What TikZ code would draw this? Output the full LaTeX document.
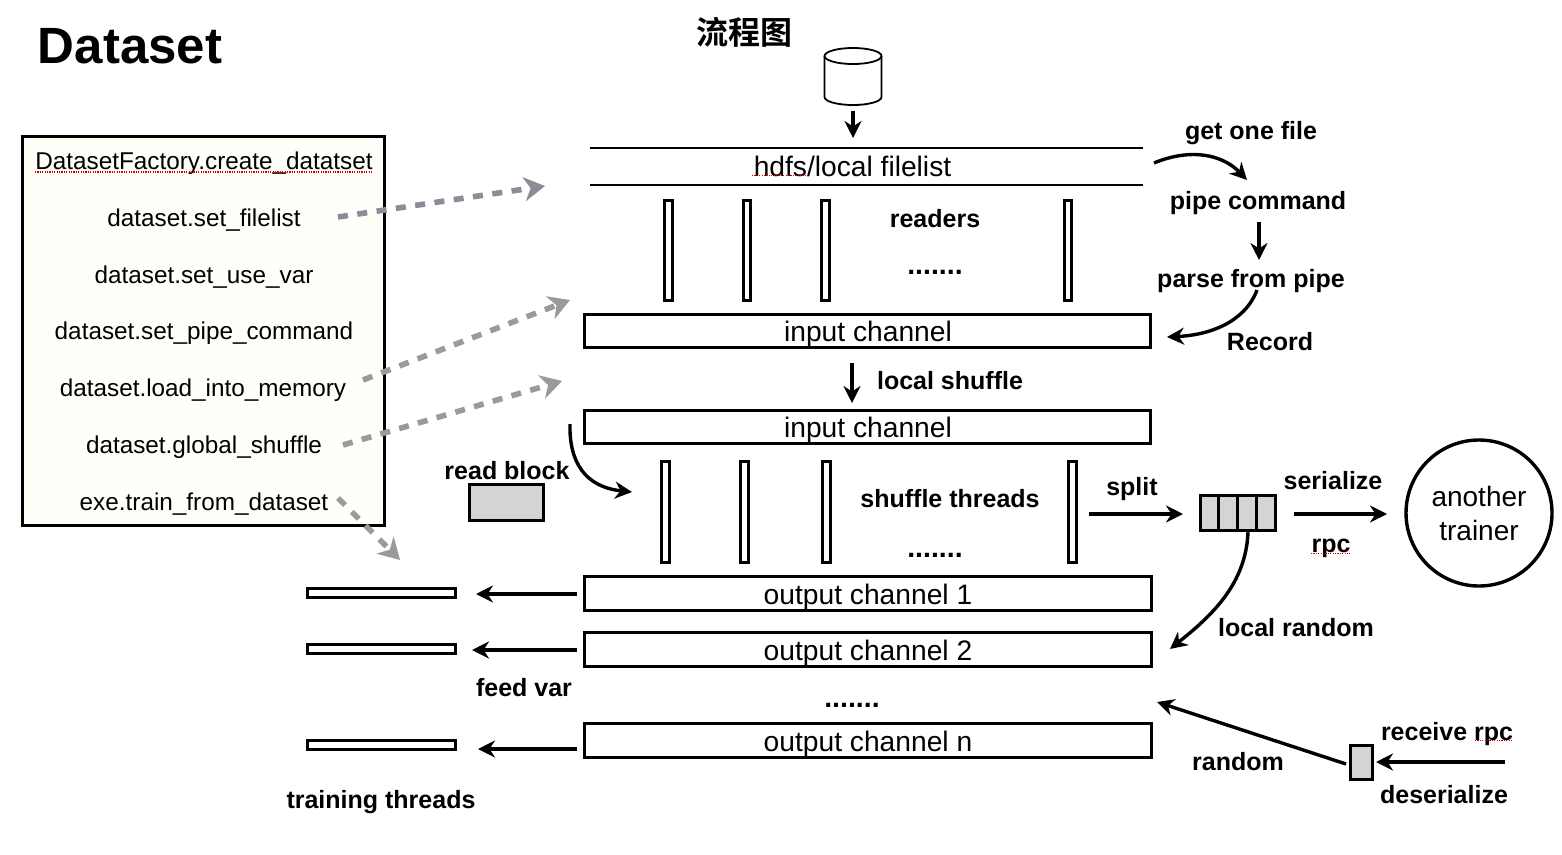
\documentclass[tikz,border=0pt]{standalone}
\usepackage{fontspec}
\setmainfont{Liberation Sans}
\newfontfamily\cjkfont{Noto Sans CJK SC}[BoldFont={* Bold}]
\usetikzlibrary{arrows.meta,calc}
\definecolor{boxfill}{HTML}{FFFEF9}
\definecolor{blockgray}{HTML}{D4D4D4}
\definecolor{dashblue}{HTML}{8A8C98}
\definecolor{dashgray}{HTML}{9A9A9A}
\tikzset{
  every node/.style={inner sep=0pt,outer sep=0pt},
  lab/.style={font=\fontsize{28.2}{33}\selectfont,text=black},
  bl/.style={font=\bfseries\fontsize{25}{30}\selectfont,text=black},
  dots/.style={font=\bfseries\fontsize{28.5}{30}\selectfont,text=black},
  code/.style={font=\fontsize{24.3}{29}\selectfont,text=black},
  bx/.style={draw=black,line width=3pt,fill=#1},
  bx/.default=white,
  arr/.style={draw=black,line width=3.4pt,-{Stealth[length=17pt,width=17pt,inset=5.5pt]}},
  darr/.style={draw=#1,line width=5.6pt,dash pattern=on 10pt off 9.5pt,-{Stealth[length=21pt,width=24pt,inset=6.5pt]}},
  squig/.style={draw=red!85!black,line width=1.1pt,dash pattern=on 1.2pt off 1.2pt},
}
\newcommand{\rectnode}[6][white]{\node[bx=#1,minimum width=#4pt-#2pt-0.8pt,minimum height=#5pt-#3pt-0.8pt,anchor=north west] (#6) at (#2,#3) {};}
\begin{document}
\begin{tikzpicture}[x=1pt,y=-1pt]
\useasboundingbox (0,0) rectangle (1562,854);
\fill[white] (0,0) rectangle (1562,854);

\node[font=\bfseries\fontsize{51}{58}\selectfont] (title) at (130,46) {Dataset};
\node[font=\cjkfont\bfseries\fontsize{32}{37}\selectfont] (flow) at (744,32) {流程图};

% API box
\node[draw=black,line width=3.2pt,fill=boxfill,minimum width=362pt,minimum height=389pt,anchor=north west] (api) at (22.5,136.5) {};
\node[code] (a1) at (204,163) {DatasetFactory.create\_datatset};
\node[code] (a2) at (204,220) {dataset.set\_filelist};
\node[code] (a3) at (204,277) {dataset.set\_use\_var};
\node[code] (a4) at (204,333) {dataset.set\_pipe\_command};
\node[code] (a5) at (203,390) {dataset.load\_into\_memory};
\node[code] (a6) at (204,447) {dataset.global\_shuffle};
\node[code] (a7) at (204,504) {exe.train\_from\_dataset};
\draw[squig] (35,172) -- (372,172);

% cylinder
\node[minimum width=58pt,minimum height=57pt,anchor=north west] (cyl) at (824,48) {};
\draw[black,line width=1.8pt,fill=white] (824.5,56) -- (824.5,97) arc[start angle=180,end angle=0,x radius=28.5pt,y radius=-8pt] -- (881.5,56);
\draw[black,line width=1.8pt] (853,56) ellipse[x radius=28.5pt,y radius=8pt];

% filelist
\node[minimum width=553pt,minimum height=37pt,anchor=north west] (files) at (590,148) {};
\draw[black,line width=2.8pt] (files.north west) -- (files.north east) (files.south west) -- (files.south east);
\node[lab] (filestxt) at (852.5,166) {hdfs/local filelist};
\draw[squig] (752,175.5) -- (805,175.5);

% readers
\rectnode{664}{200}{673}{301}{r1}
\rectnode{743}{200}{751}{301}{r2}
\rectnode{821}{200}{830}{301}{r3}
\rectnode{1064}{200}{1072}{301}{r4}
\node[bl] (readers) at (935,219) {readers};
\node[dots] (rdots) at (935,272) {.......};

\rectnode{584}{314}{1151}{348}{in1}
\node[lab] (in1t) at (868,334) {input channel};
\node[bl] (ls) at (950,381) {local shuffle};
\rectnode{584}{410}{1151}{444}{in2}
\node[lab] (in2t) at (868,430) {input channel};

% shuffle
\rectnode{661}{461}{670}{563}{s1}
\rectnode{740}{461}{749}{563}{s2}
\rectnode{822}{461}{831}{563}{s3}
\rectnode{1068}{461}{1077}{563}{s4}
\node[bl] (sh) at (950,499) {shuffle threads};
\node[dots] (sdots) at (935,555) {.......};
\node[bl] (rb) at (507,471) {read block};
\rectnode[blockgray]{469}{484}{544}{521}{block}

% outputs
\rectnode{584}{576}{1152}{611}{o1}
\node[lab] (o1t) at (868,597) {output channel 1};
\rectnode{584}{632}{1152}{667}{o2}
\node[lab] (o2t) at (868,653) {output channel 2};
\node[dots] (odots) at (852,705) {.......};
\rectnode{584}{723}{1152}{758}{on}
\node[lab] (ont) at (868,744) {output channel n};

% training threads
\rectnode{307}{588}{456}{598}{t1}
\rectnode{307}{644}{456}{654}{t2}
\rectnode{307}{740}{456}{750}{tn}
\node[bl] (fv) at (524,688) {feed var};
\node[bl] (tt) at (381,802) {training threads};

% right side labels
\node[bl] (gof) at (1251,133) {get one file};
\node[bl] (pc) at (1258,203) {pipe command};
\node[bl] (pp) at (1251,281) {parse from pipe};
\node[bl] (rec) at (1270,342) {Record};
\node[bl] (split) at (1132,489) {split};
\node[bl] (ser) at (1333,481) {serialize};
\node[bl] (rpc) at (1331,548) {rpc};
\draw[squig] (1311,553.5) -- (1350,553.5);
\node[bl] (lr) at (1296,628) {local random};
\node[bl] (rnd) at (1238,762) {random};
\node[bl] (rr) at (1447,734) {receive rpc};
\draw[squig] (1475,740.5) -- (1513,740.5);
\node[bl] (des) at (1444,795) {deserialize};

% split block
\rectnode[blockgray]{1200}{495}{1276}{531}{qb}
\draw[black,line width=2.2pt] (1218.5,495) -- (1218.5,531) (1237.5,495) -- (1237.5,531) (1256.5,495) -- (1256.5,531);

% circle
\node[draw=black,line width=3.4pt,circle,minimum size=146pt,align=center,font=\fontsize{28}{34}\selectfont] (trainer) at (1479,513) {another\\trainer};

% small gray box
\node[bx=blockgray,line width=3pt,minimum width=22pt,minimum height=34pt,anchor=north west] (small) at (1350,745) {};

% free ends
\coordinate (e0a) at (853,111); \coordinate (e0b) at (853,138);
\coordinate (lsa) at (852,363); \coordinate (lsb) at (852,403);
\coordinate (ga) at (1154,163); \coordinate (gb) at (1247,180);
\coordinate (pa) at (1259,222); \coordinate (pb) at (1259,260);
\coordinate (ra) at (1257,290); \coordinate (rb2) at (1167,337);
\coordinate (ba) at (570,424); \coordinate (bb) at (632,492);
\coordinate (spa) at (1089,514); \coordinate (spb) at (1183,514);
\coordinate (sea) at (1294,514); \coordinate (seb) at (1387,514);
\coordinate (lra) at (1248,532); \coordinate (lrb) at (1170,649);
\coordinate (rna) at (1346,764); \coordinate (rnb) at (1157,702);
\coordinate (rca) at (1505,762); \coordinate (rcb) at (1376,762);
\coordinate (f1a) at (577,594); \coordinate (f1b) at (476,594);
\coordinate (f2a) at (577,650); \coordinate (f2b) at (472,650);
\coordinate (f3a) at (577,749); \coordinate (f3b) at (478,749);
\coordinate (d1a) at (338,217); \coordinate (d1b) at (545,186);
\coordinate (d2a) at (363,380); \coordinate (d2b) at (570,300);
\coordinate (d3a) at (343,445); \coordinate (d3b) at (562,381);
\coordinate (d4a) at (338,498); \coordinate (d4b) at (400,560);

\draw[arr] (e0a) -- (e0b);
\draw[arr] (lsa) -- (lsb);
\draw[arr] (ga) .. controls (1190,148) and (1222,154) .. (gb);
\draw[arr] (pa) -- (pb);
\draw[arr] (ra) .. controls (1245,322) and (1210,335) .. (rb2);
\draw[arr] (ba) .. controls (569,462) and (585,487) .. (bb);
\draw[arr] (spa) -- (spb);
\draw[arr] (sea) -- (seb);
\draw[arr] (lra) .. controls (1246,585) and (1210,617) .. (lrb);
\draw[arr] (rna) -- (rnb);
\draw[arr] (rca) -- (rcb);
\draw[arr] (f1a) -- (f1b);
\draw[arr] (f2a) -- (f2b);
\draw[arr] (f3a) -- (f3b);
\draw[darr=dashblue] (d1a) -- (d1b);
\draw[darr=dashgray] (d2a) -- (d2b);
\draw[darr=dashgray] (d3a) -- (d3b);
\draw[darr=dashgray] (d4a) -- (d4b);
\end{tikzpicture}
\end{document}
